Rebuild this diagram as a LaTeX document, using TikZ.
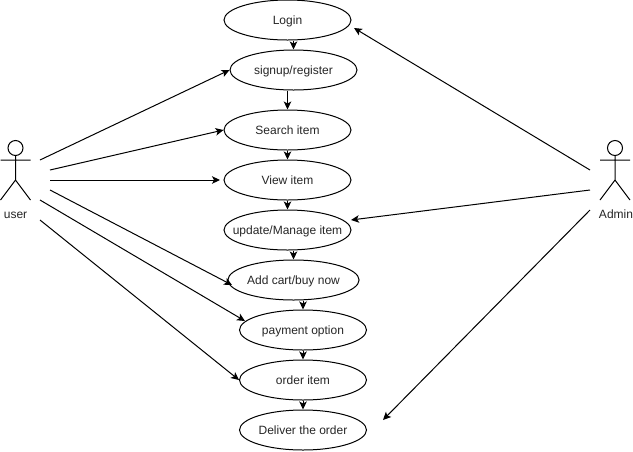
\documentclass[tikz,border=0pt]{standalone}
\usepackage{fontspec}
\setmainfont{Liberation Sans}
\usetikzlibrary{arrows.meta,shapes.geometric}
\tikzset{
  usecase/.style={draw=black,fill=white,ellipse,line width=1pt,minimum width=127pt,minimum height=40pt,inner sep=0pt,text height=11pt,text depth=3pt,font=\fontsize{12}{14}\selectfont,text=black!85},
  link/.style={draw=black,line width=1pt,-{Stealth[length=8pt,width=7.5pt,inset=2pt]}},
  limb/.style={draw=black,line width=1pt},
  actorlabel/.style={font=\fontsize{12}{14}\selectfont,text=black!85,inner sep=0pt,text height=11pt,text depth=3pt}
}
\begin{document}
\begin{tikzpicture}[x=1pt,y=-1pt]
\useasboundingbox[fill=white] (0,0) rectangle (633,451);
% use cases
\node[usecase] (login) at (287.5,20) {Login};
\node[usecase] (signup) at (293.5,70) {signup/register};
\node[usecase] (search) at (287.5,130) {Search item};
\node[usecase] (view) at (287.5,180) {View item};
\node[usecase] (update) at (287.5,230) {\makebox[0pt]{update/Manage item}};
\node[usecase] (add) at (293.5,280) {Add cart/buy now};
\node[usecase] (pay) at (303,330) {payment option};
\node[usecase] (order) at (303,380) {order item};
\node[usecase] (deliver) at (303,430) {Deliver the order};
% actors
\draw[limb] (15.5,148) circle (7.5);
\draw[limb] (15.5,155.5) -- (15.5,180) (0.5,160) -- (30.5,160) (0.5,200) -- (15.5,180) -- (30.5,200);
\node[actorlabel] (user) at (15.5,214) {user};
\draw[limb] (615,148) circle (7.5);
\draw[limb] (615,155.5) -- (615,180) (600,160) -- (630,160) (600,200) -- (615,180) -- (630,200);
\node[actorlabel] (admin) at (616,214) {Admin};
% free ends
\coordinate (u1) at (40,160);
\coordinate (u2) at (50,170);
\coordinate (u3) at (50,180);
\coordinate (u4) at (50,190);
\coordinate (u5) at (40,200);
\coordinate (u6) at (40,220);
\coordinate (a1) at (590,170);
\coordinate (a2) at (590,190);
\coordinate (a3) at (590,210);
\coordinate (t1) at (354,28);
\coordinate (t2) at (351,220);
\coordinate (t3) at (383,420);
\coordinate (t4) at (220,180);
\coordinate (t5) at (232,285);
\coordinate (t6) at (245,321);
% flow
\draw[link] (signup.north |- login.south) -- (signup.north);
\draw[link] (search.north |- signup.south) -- (search.north);
\draw[link] (search) -- (view);
\draw[link] (view) -- (update);
\draw[link] (add.north |- update.south) -- (add.north);
\draw[link] (pay.north |- add.south) -- (pay.north);
\draw[link] (pay) -- (order);
\draw[link] (order) -- (deliver);
% actor links
\draw[link] (u1) -- (signup.west);
\draw[link] (u2) -- (search.west);
\draw[link] (u3) -- (t4);
\draw[link] (u4) -- (t5);
\draw[link] (u5) -- (t6);
\draw[link] (u6) -- (order.west);
\draw[link] (a1) -- (t1);
\draw[link] (a2) -- (t2);
\draw[link] (a3) -- (t3);
\end{tikzpicture}
\end{document}
